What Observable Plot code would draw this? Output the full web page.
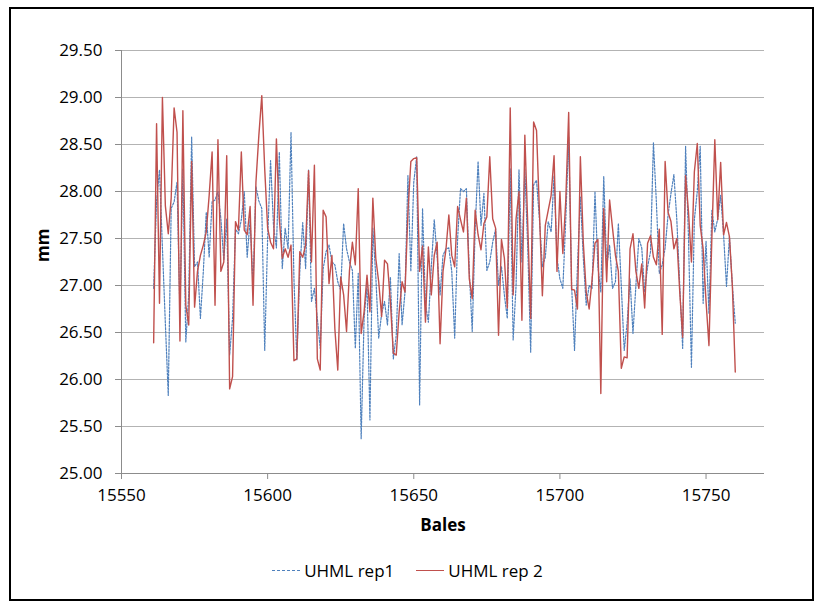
<!DOCTYPE html>
<html><head><meta charset="utf-8">
<script src="https://cdn.jsdelivr.net/npm/d3@7"></script>
<script src="https://cdn.jsdelivr.net/npm/@observablehq/plot@0.6"></script>
<style>
html,body{margin:0;padding:0;background:#fff;}
body{width:815px;height:610px;position:relative;overflow:hidden;font-family:"Open Sans",sans-serif;}
#frame{position:absolute;left:9px;top:7px;width:805px;height:594px;border:2px solid #000;box-sizing:border-box;}
#chart{position:absolute;left:0;top:0;}
#legend{position:absolute;left:0;top:558px;width:815px;height:24px;display:flex;justify-content:center;align-items:center;font-size:17px;color:#000;}
.item{display:flex;align-items:center;margin:0 11px;}
.sw{width:28px;height:0;margin-right:4px;}
</style></head>
<body>
<div id="frame"></div>
<div id="chart"></div>
<div id="legend"></div>
<script>
const firstBale = 15561;
const lastBale = 15760;
const xTicks = [15550, 15600, 15650, 15700, 15750];
const yTicks = [25, 25.5, 26, 26.5, 27, 27.5, 28, 28.5, 29, 29.5];
const seriesNames = ["UHML rep1", "UHML rep 2"];
const rep1 = [
26.97, 27.90, 28.23, 27.40, 26.60, 25.83, 27.82, 27.89, 28.10, 26.70,
28.24, 26.40, 26.90, 28.58, 27.20, 27.25, 26.65, 27.15, 27.78, 27.30,
27.89, 27.91, 28.00, 27.71, 27.27, 27.71, 26.26, 26.65, 27.60, 27.55,
27.70, 28.00, 27.30, 27.70, 27.00, 28.05, 27.90, 27.82, 26.31, 27.50,
28.33, 27.64, 27.40, 28.42, 27.18, 27.61, 27.39, 28.63, 27.07, 26.21,
27.15, 27.67, 27.18, 28.23, 26.83, 26.97, 26.65, 26.33, 27.18, 27.36,
27.43, 27.25, 27.22, 27.04, 26.95, 27.66, 27.39, 27.25, 27.16, 26.33,
27.13, 25.37, 26.65, 27.01, 25.57, 27.61, 27.10, 26.44, 26.70, 26.83,
26.58, 27.09, 26.22, 26.47, 27.34, 26.58, 26.93, 28.17, 27.15, 28.10,
28.37, 25.73, 27.82, 26.80, 26.61, 27.20, 27.70, 27.30, 26.90, 27.32,
27.39, 27.40, 27.15, 26.44, 27.50, 28.03, 28.00, 28.03, 27.15, 26.51,
27.60, 28.32, 27.64, 27.98, 27.16, 27.25, 27.46, 27.60, 27.00, 27.20,
26.90, 26.65, 28.24, 26.42, 27.00, 28.23, 27.25, 28.24, 27.40, 26.29,
28.07, 28.12, 27.70, 27.20, 27.30, 27.68, 27.57, 28.17, 27.30, 27.07,
26.97, 27.70, 28.58, 27.00, 26.31, 27.20, 27.94, 27.30, 26.79, 27.00,
26.97, 28.00, 27.20, 26.93, 28.16, 27.20, 27.43, 26.97, 27.04, 27.66,
27.00, 26.31, 26.60, 27.07, 26.49, 27.00, 27.50, 27.40, 26.93, 27.20,
27.36, 28.52, 27.89, 27.13, 27.22, 27.40, 27.75, 27.98, 28.18, 27.70,
27.00, 26.33, 28.48, 27.50, 26.13, 27.70, 28.00, 28.48, 26.81, 27.47,
26.70, 27.80, 27.57, 27.71, 27.96, 27.54, 26.99, 27.52, 27.00, 26.60
];
const rep2 = [
26.39, 28.72, 26.81, 29.00, 27.85, 27.55, 27.93, 28.89, 28.63, 26.41,
28.86, 26.79, 26.58, 28.32, 26.77, 27.15, 27.32, 27.43, 27.57, 27.96,
28.42, 26.79, 28.55, 27.15, 27.25, 28.38, 25.90, 26.03, 27.68, 27.59,
28.42, 27.59, 27.54, 27.84, 26.79, 28.10, 28.60, 29.02, 28.24, 27.61,
27.46, 27.39, 28.56, 27.71, 27.29, 27.39, 27.30, 27.43, 26.20, 26.22,
27.36, 27.30, 27.43, 28.22, 27.25, 28.28, 26.22, 26.10, 27.80, 27.73,
27.02, 27.32, 26.54, 26.10, 27.09, 26.90, 26.51, 27.16, 27.46, 27.22,
28.03, 26.49, 26.72, 27.11, 26.72, 27.93, 27.29, 27.04, 26.67, 27.27,
27.23, 26.83, 26.28, 26.26, 26.72, 27.04, 26.93, 27.78, 28.32, 28.35,
28.36, 27.15, 27.42, 26.61, 27.41, 26.90, 27.32, 27.46, 26.38, 27.15,
27.38, 27.75, 27.32, 27.20, 27.84, 27.70, 27.57, 27.93, 27.07, 26.86,
27.80, 27.54, 27.38, 27.66, 27.73, 28.37, 27.71, 27.61, 26.47, 27.49,
27.29, 26.76, 28.89, 26.90, 27.71, 28.00, 26.63, 28.60, 27.64, 26.65,
28.74, 28.65, 27.78, 26.89, 27.64, 27.80, 27.96, 28.38, 27.15, 28.00,
27.34, 27.90, 28.84, 26.96, 26.95, 26.75, 28.37, 27.46, 26.93, 26.75,
27.06, 27.45, 27.49, 25.85, 27.82, 27.04, 27.91, 27.61, 27.32, 27.15,
26.12, 26.24, 26.23, 27.39, 27.55, 27.15, 26.97, 27.23, 26.76, 27.45,
27.53, 27.30, 27.22, 27.60, 26.48, 28.32, 27.78, 27.68, 27.39, 27.50,
26.93, 26.45, 28.17, 27.78, 27.25, 28.21, 28.51, 27.64, 27.39, 26.83,
26.36, 27.52, 28.55, 27.70, 28.31, 27.54, 27.67, 27.52, 27.00, 26.08
];
const bales = d3.range(firstBale, lastBale + 1);
const colors = ["#4f81bd", "#c0504d"];
const gridColor = "#b3b3b3";
const axisColor = "#8c8c8c";

const chart = Plot.plot({
  width: 815, height: 545,
  marginLeft: 121, marginRight: 51, marginTop: 50, marginBottom: 72,
  style: {fontFamily: "'Open Sans', sans-serif", fontSize: "17px", color: "#000", background: "transparent", overflow: "visible"},
  x: {domain: [15550, 15770]},
  y: {domain: [25, 29.5]},
  marks: [
    Plot.gridY(yTicks, {stroke: gridColor, strokeOpacity: 1, strokeWidth: 1}),
    Plot.ruleX([15550], {stroke: axisColor, strokeWidth: 1}),
    Plot.ruleY([25], {stroke: axisColor, strokeWidth: 1}),
    Plot.axisY(yTicks, {tickSize: 6, tickPadding: 13, stroke: axisColor, fill: "#000", tickFormat: d => d.toFixed(2), label: null}),
    Plot.axisX(xTicks, {tickSize: 6, tickPadding: 9, stroke: axisColor, fill: "#000", tickFormat: d => String(d), label: null}),
    Plot.text(["mm"], {frameAnchor: "left", dx: -78, rotate: -90, fontWeight: "bold", fill: "#000"}),
    Plot.text(["Bales"], {frameAnchor: "bottom", dy: 57, fontWeight: "bold", fill: "#000"}),
    Plot.line(bales, {x: d => d, y: (d, i) => rep1[i], stroke: colors[0], strokeWidth: 1.2, strokeDasharray: "2,1.5"}),
    Plot.line(bales, {x: d => d, y: (d, i) => rep2[i], stroke: colors[1], strokeWidth: 1.4})
  ]
});
document.getElementById("chart").appendChild(chart);

const legend = document.getElementById("legend");
seriesNames.forEach((name, i) => {
  const item = document.createElement("div");
  item.className = "item";
  const sw = document.createElement("div");
  sw.className = "sw";
  sw.style.borderTop = i === 0 ? `1.3px dashed ${colors[0]}` : `1.5px solid ${colors[1]}`;
  const label = document.createElement("span");
  label.textContent = name;
  item.appendChild(sw);
  item.appendChild(label);
  legend.appendChild(item);
});
</script>
</body></html>
